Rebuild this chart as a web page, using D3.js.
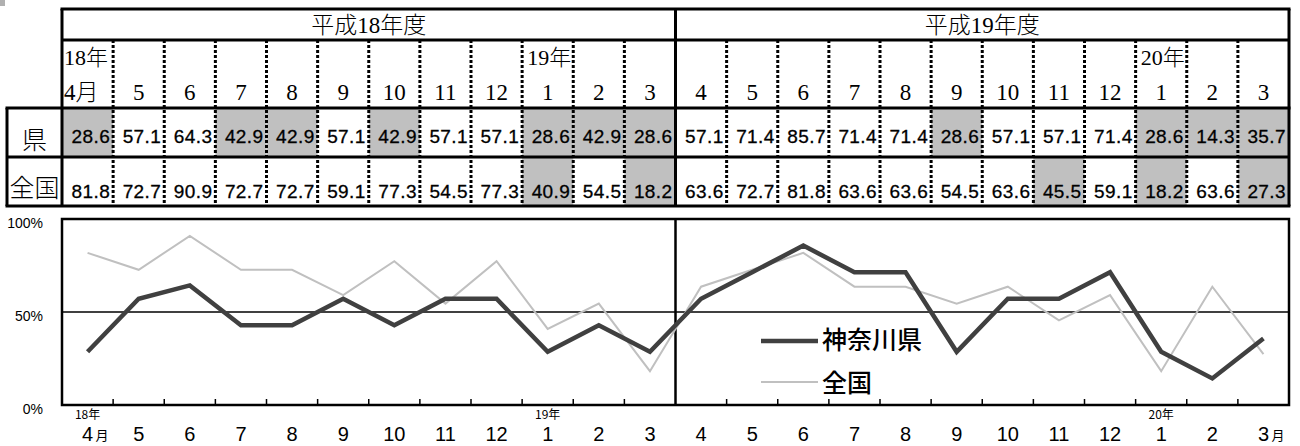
<!DOCTYPE html>
<html><head><meta charset="utf-8">
<script src="https://cdn.jsdelivr.net/npm/d3@7"></script>
<style>
html,body{margin:0;padding:0;background:#fff;}
svg{display:block;}
</style></head>
<body>
<svg id="c" width="1300" height="446"></svg>
<script>
// ---- data ----
const fiscalYears = ["平成18年度", "平成19年度"];
const months = ["4","5","6","7","8","9","10","11","12","1","2","3",
                "4","5","6","7","8","9","10","11","12","1","2","3"];
const yearMarks = [{i:0, label:"18年"}, {i:9, label:"19年"}, {i:21, label:"20年"}];
const rowLabels = ["県", "全国"];
const kanagawa = [28.6,57.1,64.3,42.9,42.9,57.1,42.9,57.1,57.1,28.6,42.9,28.6,
                  57.1,71.4,85.7,71.4,71.4,28.6,57.1,57.1,71.4,28.6,14.3,35.7];
const national = [81.8,72.7,90.9,72.7,72.7,59.1,77.3,54.5,77.3,40.9,54.5,18.2,
                  63.6,72.7,81.8,63.6,63.6,54.5,63.6,45.5,59.1,18.2,63.6,27.3];
const seriesNames = ["神奈川県", "全国"];
const yTicks = [0, 50, 100];

const svg = d3.select("#c");
const idx = d3.range(months.length);
const x = d3.scaleBand().domain(idx).range([62, 1289]).padding(0);
const bw = x.bandwidth();
const serif = "'Liberation Serif','Noto Sans CJK JP',serif";
const sans = "'Liberation Sans','Noto Sans CJK JP',sans-serif";
const cjk = "'Noto Sans CJK JP',sans-serif";

// small corner mark
svg.append("rect").attr("x",0).attr("y",0).attr("width",5).attr("height",6).attr("fill","#b0b0b0");

// ---- table ----
const T = {top:9, h1:40, h2:108, r1:157, bottom:206, left:62, labelLeft:7, right:1289};
const table = svg.append("g");
const rowsData = [kanagawa, national];
const rowY = [[T.h2, T.r1], [T.r1, T.bottom]];

// gray cells (value below 50)
rowsData.forEach((vals, r) => {
  table.selectAll(null).data(idx.filter(i => vals[i] < 50)).enter().append("rect")
    .attr("x", i => x(i)).attr("y", rowY[r][0])
    .attr("width", bw).attr("height", rowY[r][1] - rowY[r][0])
    .attr("fill", "#c0c0c0");
});

// dotted separators
table.selectAll(null).data(idx.filter(i => i > 0 && i !== 12)).enter().append("line")
  .attr("x1", i => x(i)).attr("x2", i => x(i))
  .attr("y1", T.h1).attr("y2", T.bottom)
  .attr("stroke", "#000").attr("stroke-width", 3).attr("stroke-dasharray", "3,2");

// solid lines
const hl = (y, x1, x2) => table.append("line").attr("x1",x1).attr("x2",x2).attr("y1",y).attr("y2",y)
  .attr("stroke","#000").attr("stroke-width",3);
const vl = (xx, y1, y2) => table.append("line").attr("x1",xx).attr("x2",xx).attr("y1",y1).attr("y2",y2)
  .attr("stroke","#000").attr("stroke-width",3);
hl(T.top, T.left-1.5, T.right+1.5);
hl(T.h1, T.left, T.right);
hl(T.h2, T.labelLeft-1.5, T.right+1.5);
hl(T.r1, T.labelLeft, T.right);
hl(T.bottom, T.labelLeft-1.5, T.right+1.5);
vl(T.left, T.top, T.bottom);
vl(T.labelLeft, T.h2, T.bottom);
vl(x(12), T.top, T.bottom);
vl(T.right, T.top, T.bottom);

// fiscal year headers
table.selectAll(null).data(fiscalYears).enter().append("text")
  .attr("x", (d, k) => (x(k*12) + x(k*12+11) + bw) / 2)
  .attr("y", 33).attr("text-anchor", "middle")
  .attr("font-family", serif).attr("font-weight", 300).attr("font-size", 23)
  .text(d => d);

// month row
table.selectAll(null).data(idx).enter().append("text")
  .attr("x", i => i === 0 ? x(i) + 2 : x(i) + bw/2)
  .attr("y", 100)
  .attr("text-anchor", i => i === 0 ? "start" : "middle")
  .attr("font-family", serif).attr("font-weight", 300).attr("font-size", 23)
  .text(i => i === 0 ? months[i] + "月" : months[i]);
table.selectAll(null).data(yearMarks).enter().append("text")
  .attr("x", d => x(d.i) + (d.i === 0 ? 2 : 5))
  .attr("y", 65)
  .attr("font-family", serif).attr("font-weight", 300).attr("font-size", 22)
  .text(d => d.label);

// row labels
table.selectAll(null).data(rowLabels).enter().append("text")
  .attr("x", (T.labelLeft + T.left)/2).attr("y", (d, r) => r === 0 ? 149 : 197)
  .attr("text-anchor", "middle")
  .attr("font-family", cjk).attr("font-weight", 300).attr("font-size", 25)
  .text(d => d);

// values
const baseY = [143, 198];
rowsData.forEach((vals, r) => {
  table.selectAll(null).data(idx).enter().append("text")
    .attr("x", i => x(i) + bw - 3).attr("y", baseY[r])
    .attr("text-anchor", "end")
    .attr("font-family", sans).attr("font-size", 19).attr("letter-spacing", 0.4)
    .attr("fill", "#000").attr("stroke", "#000").attr("stroke-width", 0.3)
    .text(i => vals[i].toFixed(1));
});

// ---- line chart ----
const P = {top:219, bottom:405};
const y = d3.scaleLinear().domain([0, 100]).range([P.bottom, P.top]);
const g = svg.append("g");

// 50% line
g.append("line").attr("x1", T.left).attr("x2", T.right).attr("y1", y(50)).attr("y2", y(50))
  .attr("stroke", "#000").attr("stroke-width", 1.5);
// middle divider
g.append("line").attr("x1", x(12)).attr("x2", x(12)).attr("y1", P.top).attr("y2", P.bottom)
  .attr("stroke", "#000").attr("stroke-width", 2.5);
// ticks
g.selectAll(null).data(idx.filter(i => i > 0 && i !== 12)).enter().append("line")
  .attr("x1", i => x(i)).attr("x2", i => x(i)).attr("y1", P.bottom).attr("y2", P.bottom - 6)
  .attr("stroke", "#000").attr("stroke-width", 1.5);

const line = d3.line().x(i => x(i) + bw/2);
g.append("path").datum(idx)
  .attr("d", line.y(i => y(national[i])))
  .attr("fill", "none").attr("stroke", "#c0c0c0").attr("stroke-width", 2);
g.append("path").datum(idx)
  .attr("d", line.y(i => y(kanagawa[i])))
  .attr("fill", "none").attr("stroke", "#404040").attr("stroke-width", 4.5)
  .attr("stroke-linejoin", "miter");

// frame
g.append("rect").attr("x", T.left).attr("y", P.top).attr("width", T.right - T.left)
  .attr("height", P.bottom - P.top).attr("fill", "none").attr("stroke", "#000").attr("stroke-width", 2.5);

// y labels
g.selectAll(null).data(yTicks).enter().append("text")
  .attr("x", 43).attr("y", v => y(v) + 9).attr("text-anchor", "end")
  .attr("font-family", sans).attr("font-size", 14).text(v => v + "%");

// x labels
g.selectAll(null).data(idx).enter().append("text")
  .attr("x", i => x(i) + bw/2).attr("y", 441).attr("text-anchor", "middle")
  .attr("font-family", sans).attr("font-size", 20).text(i => months[i]);
g.selectAll(null).data([0, 23]).enter().append("text")
  .attr("x", i => x(i) + bw/2 + 8).attr("y", 440)
  .attr("font-family", cjk).attr("font-size", 13).text("月");
g.selectAll(null).data(yearMarks).enter().append("text")
  .attr("x", d => x(d.i) + bw/2).attr("y", 419).attr("text-anchor", "middle")
  .attr("font-family", cjk).attr("font-size", 12).text(d => d.label);

// legend
const legend = g.append("g");
const lg = [{name: seriesNames[0], color:"#404040", w:4.5, y:341, ty:349},
            {name: seriesNames[1], color:"#c0c0c0", w:2, y:382, ty:392}];
legend.selectAll(null).data(lg).enter().append("line")
  .attr("x1", 761).attr("x2", 818).attr("y1", d => d.y).attr("y2", d => d.y)
  .attr("stroke", d => d.color).attr("stroke-width", d => d.w);
legend.selectAll(null).data(lg).enter().append("text")
  .attr("x", 822).attr("y", d => d.ty)
  .attr("font-family", cjk).attr("font-weight", 500).attr("font-size", 25)
  .text(d => d.name);
</script>
</body></html>
